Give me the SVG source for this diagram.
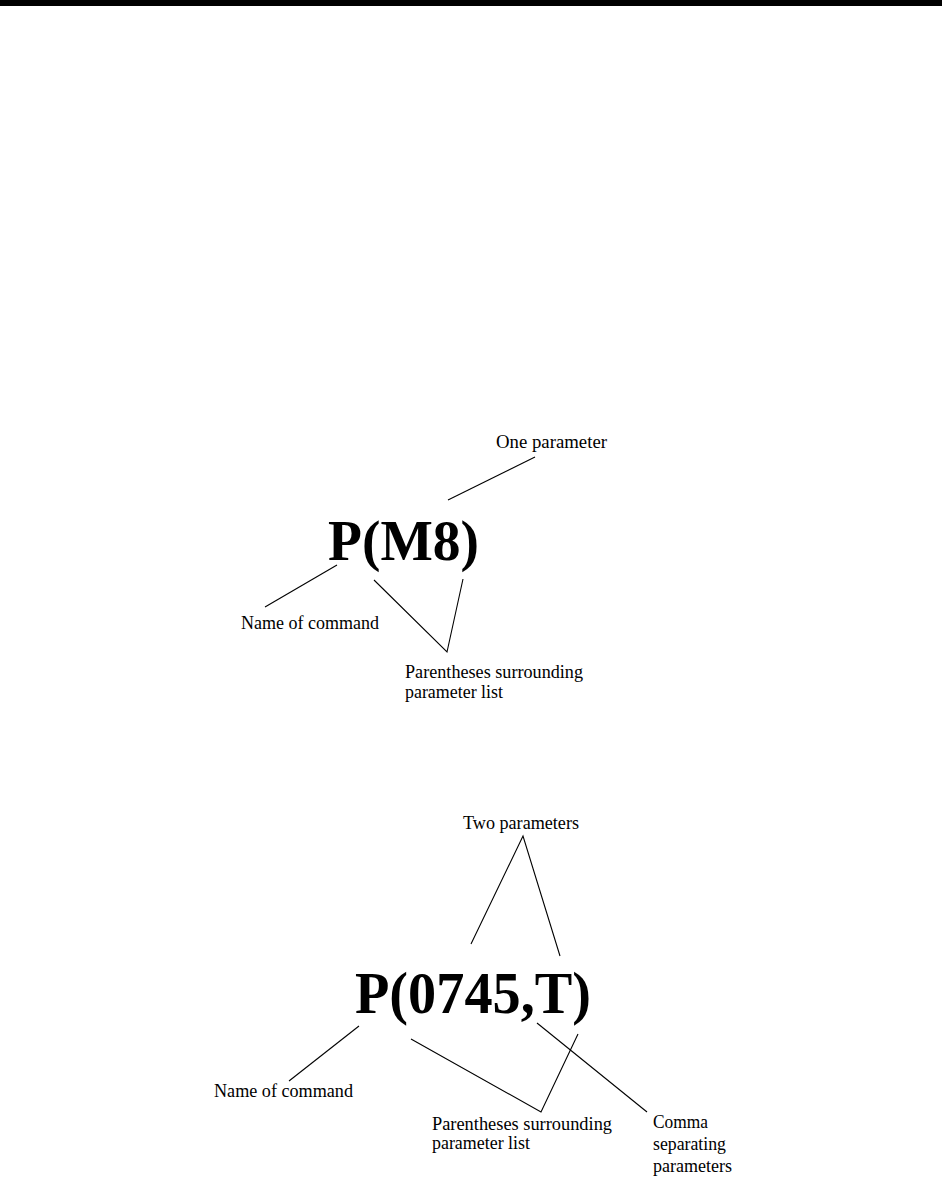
<svg xmlns="http://www.w3.org/2000/svg" width="942" height="1180" viewBox="0 0 942 1180">
<style>
.lbl{font-family:"Liberation Serif","Times New Roman",serif;font-size:18px;fill:#000}
.big{font-family:"Liberation Serif","Times New Roman",serif;font-weight:bold;fill:#000}
.ln{stroke:#000;stroke-width:1.1;fill:none}
</style>
<rect x="0" y="0" width="942" height="1180" fill="#fff"/>
<rect x="0" y="0" width="942" height="6" fill="#000"/>
<g id="cmd1">
<text class="big" x="328" y="560" font-size="57" textLength="151" lengthAdjust="spacingAndGlyphs">P(M8)</text>
</g>
<g id="label-one-parameter"><text class="lbl" x="496" y="448" textLength="111" lengthAdjust="spacingAndGlyphs">One parameter</text></g>
<g id="label-name1"><text class="lbl" x="241" y="629" textLength="138" lengthAdjust="spacingAndGlyphs">Name of command</text></g>
<g id="label-paren1">
<text class="lbl" x="405" y="678" textLength="178" lengthAdjust="spacingAndGlyphs">Parentheses surrounding</text>
<text class="lbl" x="405" y="698" textLength="98" lengthAdjust="spacingAndGlyphs">parameter list</text>
</g>
<g id="cmd2">
<text class="big" x="355" y="1013" font-size="60" textLength="236" lengthAdjust="spacingAndGlyphs">P(0745,T)</text>
</g>
<g id="label-two-parameters"><text class="lbl" x="463" y="829" textLength="116" lengthAdjust="spacingAndGlyphs">Two parameters</text></g>
<g id="label-name2"><text class="lbl" x="214" y="1097" textLength="139" lengthAdjust="spacingAndGlyphs">Name of command</text></g>
<g id="label-paren2">
<text class="lbl" x="432" y="1130" textLength="180" lengthAdjust="spacingAndGlyphs">Parentheses surrounding</text>
<text class="lbl" x="432" y="1149" textLength="98" lengthAdjust="spacingAndGlyphs">parameter list</text>
</g>
<g id="label-comma">
<text class="lbl" x="653" y="1128" textLength="55" lengthAdjust="spacingAndGlyphs">Comma</text>
<text class="lbl" x="653" y="1150" textLength="73" lengthAdjust="spacingAndGlyphs">separating</text>
<text class="lbl" x="653" y="1172" textLength="79" lengthAdjust="spacingAndGlyphs">parameters</text>
</g>
<g id="connectors">
<line class="ln" x1="535" y1="457" x2="448" y2="500"/>
<line class="ln" x1="337" y1="565" x2="265" y2="607"/>
<polyline class="ln" points="374,580 447,652 463,579"/>
<polyline class="ln" points="471,944 523,836 560,956"/>
<line class="ln" x1="359" y1="1026" x2="289" y2="1081"/>
<polyline class="ln" points="411,1039 541,1112 578,1034"/>
<line class="ln" x1="537" y1="1023" x2="647" y2="1112"/>
</g>
</svg>
